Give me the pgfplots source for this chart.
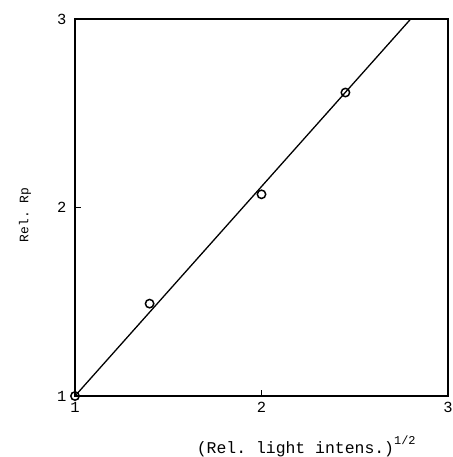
\documentclass[border=0pt]{standalone}
\usepackage{fontspec}
\setmonofont{Liberation Mono}
\usepackage{pgfplots}
\pgfplotsset{compat=1.18}
\begin{document}
\begin{tikzpicture}
    \path[use as bounding box] (-75bp,-61bp) rectangle (378bp,396bp);
    \begin{axis}[
        at={(0,0)}, anchor=south west,
        scale only axis,
        width=373bp, height=377bp,
        xmin=1, xmax=3, ymin=1, ymax=3,
        xtick={1,2,3}, ytick={1,2,3},
        tick pos=left,
        tick align=inside,
        major tick length=6bp,
        axis line style={line width=1.4pt},
        tick style={line width=1.2pt, black},
        ticklabel style={font=\fontsize{15.5}{16}\selectfont\ttfamily},
        xticklabel style={yshift=-3bp},
        yticklabel style={xshift=-5bp},
        /pgf/number format/assume math mode=true,
        xlabel={(Rel. light intens.)\raisebox{1.1ex}{\fontsize{12}{12}\selectfont 1/2}},
        ylabel={Rel. Rp},
        xlabel style={font=\fontsize{16.5}{17}\selectfont\ttfamily,
            at={(axis description cs:0.62,0)}, anchor=north, yshift=-36bp},
        ylabel style={font=\fontsize{13}{14}\selectfont\ttfamily,
            at={(axis description cs:0,0.48)}, anchor=center, yshift=50bp},
        clip=false,
    ]
        % fitted line
        \addplot[black, line width=1.3pt] coordinates {(1,1) (2.8,3)};
        % measured points
        \addplot[only marks, mark=o, mark size=4.2bp,
            mark options={line width=1.5pt, fill=white, black}]
            coordinates {(1,1) (1.40,1.49) (2.0,2.07) (2.45,2.61)};
    \end{axis}
\end{tikzpicture}
\end{document}
